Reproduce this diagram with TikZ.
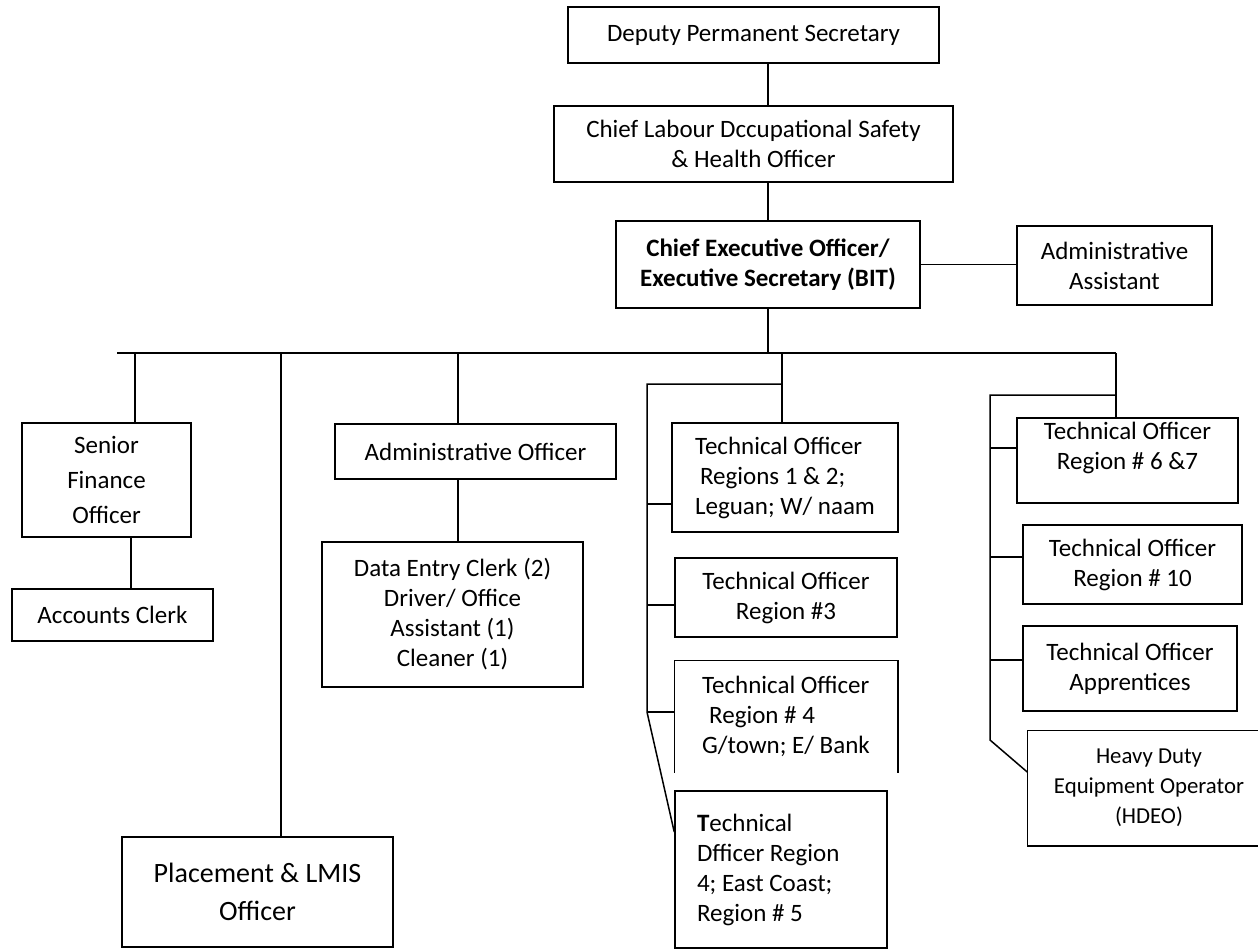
\documentclass[tikz,border=0pt]{standalone}
\usepackage{fontspec}
\setmainfont{Carlito}
\tikzset{
  post/.style={draw,line width=0.75pt,inner sep=2pt,align=center,font=\fontsize{12.5}{15}\selectfont},
  link/.style={line width=0.75pt},
  bus/.style={line width=1pt}
}
\begin{document}
\begin{tikzpicture}[x=0.5pt,y=-0.5pt]
    \useasboundingbox (0,0) rectangle (1258,950);
    \clip (0,0) rectangle (1258,950);

    % Top chain
    \node[post,minimum width=185.5pt,minimum height=28pt] (dps) at (753.5,35) {Deputy Permanent Secretary};
    \node[post,minimum width=199.5pt,minimum height=38pt] (closh) at (753.5,144) {Chief Labour Dccupational Safety\\\& Health Officer};
    \node[post,minimum width=152pt,minimum height=43.5pt,font=\fontsize{12.5}{15}\selectfont\bfseries] (ceo) at (768,264.5) {Chief Executive Officer/\\Executive Secretary (BIT)};
    \node[post,minimum width=97.5pt,minimum height=39.5pt] (aa) at (1114.5,265.5) {Administrative\\Assistant};

    \draw[link] (ceo.north |- dps.south) -- (ceo.north |- closh.north);
    \draw[link] (ceo.north |- closh.south) -- (ceo.north);
    \draw[link] (ceo.east) -- (ceo.east -| aa.west);

    % Main bus
    \coordinate (busL) at (117,353);
    \coordinate (busR) at (1116,353);
    \draw[bus] (busL) -- (busR);
    \draw[link] (ceo.south) -- (ceo.south |- busL);

    % Finance, placement, administration
    \node[post,minimum width=84.5pt,minimum height=57pt,font=\fontsize{12.5}{17.5}\selectfont] (sfo) at (106.5,480) {Senior\\Finance\\Officer};
    \node[post,minimum width=100.5pt,minimum height=26pt] (ac) at (112.5,615) {Accounts Clerk};
    \node[post,minimum width=135.5pt,minimum height=55pt,font=\fontsize{14}{19}\selectfont] (plm) at (257.5,892) {Placement \& LMIS\\Officer};
    \node[post,minimum width=140.5pt,minimum height=27.5pt] (ao) at (475.5,451.5) {Administrative Officer};
    \node[post,minimum width=130.5pt,minimum height=72.5pt] (dec) at (452.5,614.5) {Data Entry Clerk (2)\\Driver/ Office\\Assistant (1)\\Cleaner (1)};

    \coordinate (dSFO) at (135,353);
    \coordinate (dPLM) at (281,353);
    \coordinate (dAO) at (458,353);
    \coordinate (sfoac) at ([xshift=12.25pt]sfo.south);
    \draw[link] (dSFO) -- (dSFO |- sfo.north);
    \draw[link] (sfoac) -- (sfoac |- ac.north);
    \draw[link] (dPLM) -- (dPLM |- plm.north);
    \draw[link] (dAO) -- (dAO |- ao.north);
    \draw[link] (dAO |- ao.south) -- (dAO |- dec.north);

    % Technical officers, left group
    \node[post,align=left,minimum width=113pt,minimum height=54.5pt] (to1) at (785,477.5) {Technical Officer\\\hspace*{2.5pt}Regions 1 \& 2;\\Leguan; W/ naam};
    \node[post,minimum width=111pt,minimum height=39.5pt] (to3) at (786,597.5) {Technical Officer\\Region \#3};
    \node[post,draw=none,align=left,minimum width=111pt,minimum height=55.5pt] (to4) at (786,716.5) {Technical Officer\\\hspace*{3.5pt}Region \# 4\\G/town; E/ Bank};
    \node[post,align=flush left,text width=84pt,inner xsep=11pt,minimum height=78.5pt] (to5) at (781,869.5) {\textbf{T}echnical\\Dfficer Region\\4; East Coast;\\Region \# 5};
    \draw[link] (to4.south west) |- (to4.north east) -- (to4.south east);

    \coordinate (dTO) at (782,353);
    \coordinate (tob) at (782,384);
    \coordinate (tosp) at (647,384);
    \coordinate (s1) at ([yshift=-13.25pt]to1.west);
    \coordinate (s3) at ([yshift=-3.75pt]to3.west);
    \coordinate (s4) at ([yshift=2.25pt]to4.west);
    \coordinate (s5) at ([yshift=18.75pt]to5.west);
    \draw[link] (dTO) -- (dTO |- to1.north);
    \draw[link] (tob) -- (tosp) -- (tosp |- s4) -- (s5);
    \foreach \s in {s1,s3,s4}
        \draw[link] (tosp |- \s) -- (\s);

    % Technical officers, right group
    \node[post,minimum width=110.5pt,minimum height=42.5pt] (to6) at (1127.5,460.5) {Technical Officer\\Region \# 6 \&7\\\mbox{}};
    \node[post,minimum width=109.5pt,minimum height=39.5pt] (to10) at (1132.5,564.5) {Technical Officer\\Region \# 10};
    \node[post,minimum width=107pt,minimum height=42.5pt] (toap) at (1130,668.5) {Technical Officer\\Apprentices};
    \node[post,draw=none,minimum width=121pt,minimum height=57pt,font=\fontsize{11.4}{15}\selectfont] (hdeo) at (1149,788) {Heavy Duty\\Equipment Operator\\(HDEO)};
    \draw[link] (hdeo.north east) -- (hdeo.north west) -- (hdeo.south west) -- (hdeo.south east);

    \coordinate (dRT) at (1116,353);
    \coordinate (rtb) at (1116,395);
    \coordinate (rtsp) at (990,395);
    \coordinate (rtend) at (990,740);
    \coordinate (s6) at ([yshift=6.25pt]to6.west);
    \coordinate (s10) at ([yshift=3.75pt]to10.west);
    \coordinate (sap) at ([yshift=4.25pt]toap.west);
    \coordinate (shd) at ([yshift=8pt]hdeo.west);
    \draw[link] (dRT) -- (dRT |- to6.north);
    \draw[link] (rtb) -- (rtsp) -- (rtend) -- (shd);
    \foreach \s in {s6,s10,sap}
        \draw[link] (rtsp |- \s) -- (\s);
\end{tikzpicture}
\end{document}
